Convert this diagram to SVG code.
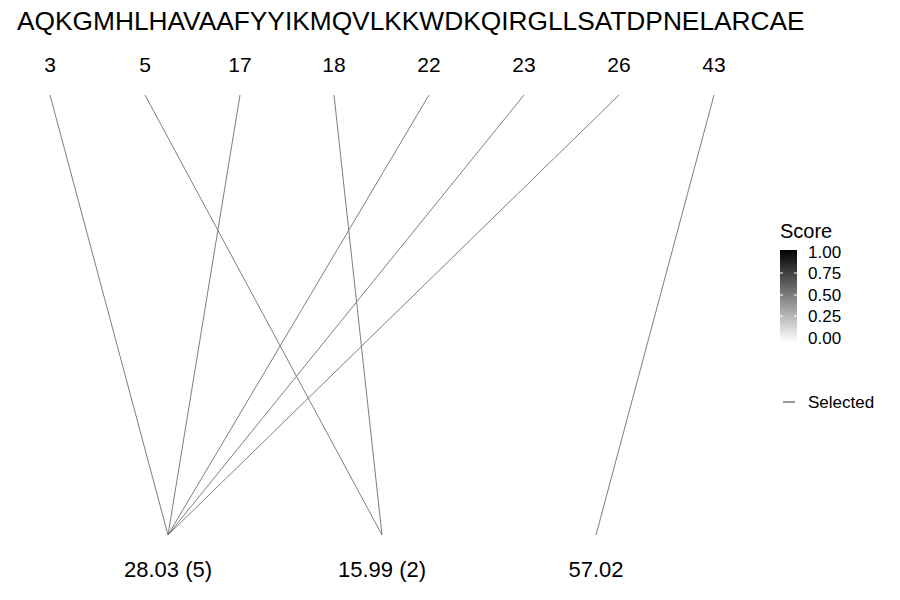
<svg xmlns="http://www.w3.org/2000/svg" width="900" height="600" viewBox="0 0 900 600">
<defs>
<linearGradient id="grad" x1="0" y1="0" x2="0" y2="1">
<stop offset="0" stop-color="#000000"/>
<stop offset="1" stop-color="#ffffff"/>
</linearGradient>
</defs>
<style>
text{font-family:"Liberation Sans",Arial,sans-serif;fill:#000}
.seq{font-size:26.3px}
.pos{font-size:21px;text-anchor:middle}
.mass{font-size:22px;text-anchor:middle}
.lt{font-size:20px}
.ll{font-size:17px}
.conn line{stroke:#7f7f7f;stroke-width:1}
.tick{stroke:#fff;stroke-width:1}
</style>
<rect width="900" height="600" fill="#fff"/>
<g id="sequence"><text class="seq" x="17" y="30">AQKGMHLHAVAAFYYIKMQVLKKWDKQIRGLLSATDPNELARCAE</text></g>
<g id="pos-3"><text class="pos" x="50" y="72">3</text></g>
<g id="pos-5"><text class="pos" x="145" y="72">5</text></g>
<g id="pos-17"><text class="pos" x="240" y="72">17</text></g>
<g id="pos-18"><text class="pos" x="334" y="72">18</text></g>
<g id="pos-22"><text class="pos" x="429" y="72">22</text></g>
<g id="pos-23"><text class="pos" x="524" y="72">23</text></g>
<g id="pos-26"><text class="pos" x="619" y="72">26</text></g>
<g id="pos-43"><text class="pos" x="714" y="72">43</text></g>
<g id="mass-28"><text class="mass" x="168" y="577">28.03 (5)</text></g>
<g id="mass-15"><text class="mass" x="382" y="577">15.99 (2)</text></g>
<g id="mass-57"><text class="mass" x="596" y="577">57.02</text></g>
<g id="connectors" class="conn">
<line x1="50" y1="95" x2="168" y2="535"/>
<line x1="145" y1="95" x2="382" y2="535"/>
<line x1="240" y1="95" x2="168" y2="535"/>
<line x1="334" y1="95" x2="382" y2="535"/>
<line x1="429" y1="95" x2="168" y2="535"/>
<line x1="524" y1="95" x2="168" y2="535"/>
<line x1="619" y1="95" x2="168" y2="535"/>
<line x1="714" y1="95" x2="596" y2="535"/>
</g>
<g id="legend">
<text class="lt" x="780" y="238">Score</text>
<rect x="780" y="250" width="17" height="92" fill="url(#grad)"/>
<line class="tick" x1="780" y1="273" x2="783" y2="273"/><line class="tick" x1="794" y1="273" x2="797" y2="273"/>
<line class="tick" x1="780" y1="295" x2="783" y2="295"/><line class="tick" x1="794" y1="295" x2="797" y2="295"/>
<line class="tick" x1="780" y1="316" x2="783" y2="316"/><line class="tick" x1="794" y1="316" x2="797" y2="316"/>
<text class="ll" x="808" y="258">1.00</text>
<text class="ll" x="808" y="279">0.75</text>
<text class="ll" x="808" y="301">0.50</text>
<text class="ll" x="808" y="322">0.25</text>
<text class="ll" x="808" y="344">0.00</text>
<line x1="783" y1="402" x2="795" y2="402" stroke="#333" stroke-width="1"/>
<text class="ll" x="808" y="408">Selected</text>
</g>
</svg>
